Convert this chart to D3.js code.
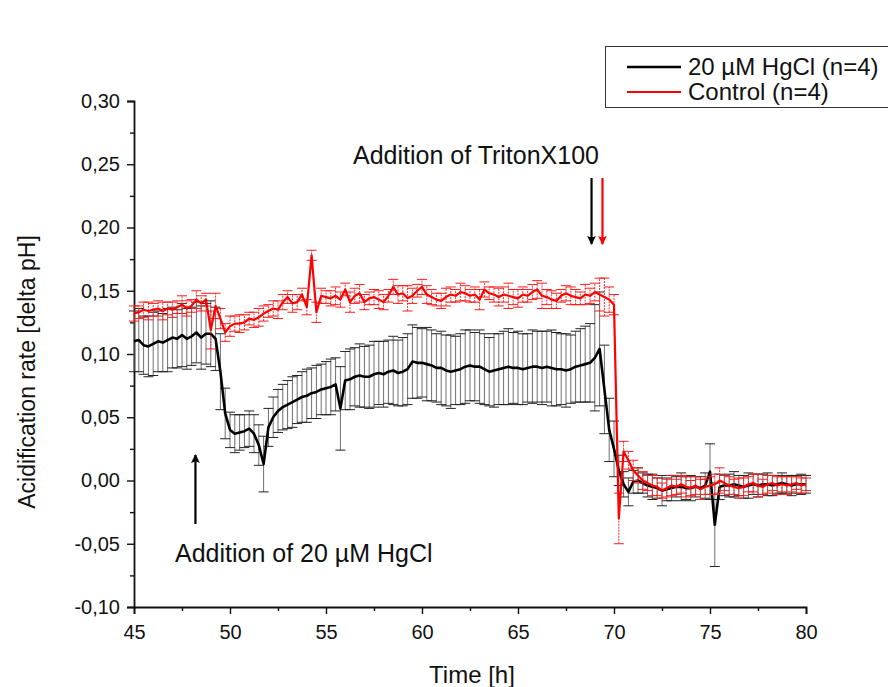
<!DOCTYPE html>
<html>
<head>
<meta charset="utf-8">
<script src="https://cdn.jsdelivr.net/npm/d3@7"></script>
<style>
  body { margin: 0; background: #fff; }
  text { font-family: "Liberation Sans", Arial, sans-serif; fill: #111; }
</style>
</head>
<body>
<div class="canvas"></div>
<script>
// time points [h]
const time = [
  45, 45.25, 45.5, 45.75, 46, 46.25, 46.5, 46.75, 47, 47.25, 47.5, 47.75,
  48, 48.25, 48.5, 48.75, 49, 49.25, 49.5, 49.75, 50, 50.25, 50.5, 50.75,
  51, 51.25, 51.5, 51.75, 52, 52.25, 52.5, 52.75, 53, 53.25, 53.5, 53.75,
  54, 54.25, 54.5, 54.75, 55, 55.25, 55.5, 55.75, 56, 56.25, 56.5, 56.75,
  57, 57.25, 57.5, 57.75, 58, 58.25, 58.5, 58.75, 59, 59.25, 59.5, 59.75,
  60, 60.25, 60.5, 60.75, 61, 61.25, 61.5, 61.75, 62, 62.25, 62.5, 62.75,
  63, 63.25, 63.5, 63.75, 64, 64.25, 64.5, 64.75, 65, 65.25, 65.5, 65.75,
  66, 66.25, 66.5, 66.75, 67, 67.25, 67.5, 67.75, 68, 68.25, 68.5, 68.75,
  69, 69.25, 69.5, 69.75, 70, 70.25, 70.5, 70.75, 71, 71.25, 71.5, 71.75,
  72, 72.25, 72.5, 72.75, 73, 73.25, 73.5, 73.75, 74, 74.25, 74.5, 74.75,
  75, 75.25, 75.5, 75.75, 76, 76.25, 76.5, 76.75, 77, 77.25, 77.5, 77.75,
  78, 78.25, 78.5, 78.75, 79, 79.25, 79.5, 79.75, 80
];

// 20 µM HgCl (n=4)
const hgMean = [
  0.110, 0.111, 0.107, 0.106, 0.108, 0.110, 0.109, 0.111, 0.113, 0.112, 0.115, 0.112,
  0.114, 0.117, 0.113, 0.116, 0.116, 0.112, 0.086, 0.053, 0.040, 0.037, 0.038, 0.039,
  0.041, 0.037, 0.028, 0.013, 0.042, 0.050, 0.055, 0.058, 0.060, 0.062, 0.064, 0.066,
  0.067, 0.069, 0.070, 0.072, 0.073, 0.074, 0.076, 0.057, 0.079, 0.080, 0.082, 0.083,
  0.082, 0.082, 0.084, 0.085, 0.084, 0.086, 0.087, 0.085, 0.086, 0.088, 0.094, 0.093,
  0.093, 0.092, 0.091, 0.089, 0.089, 0.087, 0.086, 0.087, 0.088, 0.090, 0.091, 0.090,
  0.090, 0.088, 0.086, 0.087, 0.088, 0.089, 0.090, 0.089, 0.089, 0.088, 0.089, 0.090,
  0.090, 0.089, 0.090, 0.089, 0.088, 0.088, 0.087, 0.088, 0.090, 0.091, 0.092, 0.093,
  0.097, 0.104, 0.072, 0.040, 0.025, 0.008, -0.003, -0.009, -0.001, 0.000, -0.002, -0.004,
  -0.005, -0.006, -0.008, -0.007, -0.006, -0.005, -0.005, -0.006, -0.006, -0.005, -0.006, -0.004,
  0.007, -0.035, -0.005, -0.004, -0.004, -0.003, -0.004, -0.005, -0.004, -0.003, -0.004, -0.003,
  -0.003, -0.004, -0.003, -0.002, -0.003, -0.004, -0.003, -0.003, -0.003
];
const hgErr = [
  0.024, 0.025, 0.023, 0.024, 0.025, 0.024, 0.023, 0.025, 0.024, 0.023, 0.025, 0.024,
  0.023, 0.024, 0.025, 0.024, 0.026, 0.025, 0.030, 0.020, 0.014, 0.015, 0.014, 0.013,
  0.014, 0.015, 0.016, 0.022, 0.015, 0.016, 0.017, 0.018, 0.019, 0.020, 0.019, 0.020,
  0.021, 0.020, 0.021, 0.020, 0.021, 0.022, 0.021, 0.033, 0.023, 0.024, 0.023, 0.025,
  0.024, 0.025, 0.026, 0.025, 0.026, 0.025, 0.027, 0.026, 0.027, 0.028, 0.029, 0.028,
  0.027, 0.029, 0.028, 0.027, 0.029, 0.028, 0.029, 0.027, 0.028, 0.029, 0.028, 0.027,
  0.029, 0.028, 0.027, 0.029, 0.028, 0.029, 0.030, 0.028, 0.029, 0.028, 0.027, 0.029,
  0.028, 0.029, 0.028, 0.030, 0.029, 0.028, 0.029, 0.027, 0.028, 0.029, 0.030, 0.031,
  0.042, 0.045, 0.035, 0.025, 0.022, 0.012, 0.010, 0.011, 0.009, 0.010, 0.008, 0.009,
  0.010, 0.008, 0.012, 0.009, 0.010, 0.008, 0.011, 0.009, 0.010, 0.008, 0.009, 0.010,
  0.022, 0.033, 0.010, 0.008, 0.009, 0.010, 0.008, 0.009, 0.010, 0.008, 0.009, 0.008,
  0.009, 0.008, 0.007, 0.008, 0.007, 0.008, 0.007, 0.008, 0.007
];

// Control (n=4)
const ctrlMean = [
  0.132, 0.133, 0.135, 0.134, 0.135, 0.136, 0.134, 0.136, 0.135, 0.137, 0.139, 0.136,
  0.138, 0.143, 0.140, 0.143, 0.119, 0.138, 0.128, 0.117, 0.122, 0.124, 0.124, 0.125,
  0.128, 0.127, 0.129, 0.132, 0.134, 0.136, 0.135, 0.141, 0.145, 0.140, 0.141, 0.147,
  0.137, 0.178, 0.133, 0.146, 0.145, 0.144, 0.146, 0.143, 0.151, 0.141, 0.146, 0.148,
  0.141, 0.144, 0.145, 0.143, 0.141, 0.146, 0.153, 0.147, 0.148, 0.144, 0.146, 0.150,
  0.153, 0.147, 0.145, 0.143, 0.142, 0.145, 0.147, 0.146, 0.149, 0.148, 0.146, 0.147,
  0.143, 0.151, 0.148, 0.147, 0.145, 0.147, 0.146, 0.145, 0.144, 0.147, 0.146, 0.149,
  0.151, 0.146, 0.145, 0.143, 0.142, 0.146, 0.148, 0.146, 0.145, 0.144, 0.147, 0.146,
  0.149, 0.147, 0.145, 0.143, 0.139, -0.030, 0.023, 0.016, 0.008, 0.004, 0.000, -0.002,
  -0.004, -0.005, -0.008, -0.006, -0.004, -0.005, -0.003, -0.005, -0.006, -0.004, -0.007, -0.005,
  -0.004, -0.003, 0.000, -0.002, -0.004, -0.005, -0.006, -0.005, -0.003, -0.002, -0.004, -0.005,
  -0.003, -0.002, -0.004, -0.003, -0.004, -0.003, -0.002, -0.004, -0.003
];
const ctrlErr = [
  0.006, 0.005, 0.006, 0.007, 0.005, 0.006, 0.007, 0.005, 0.006, 0.005, 0.007, 0.006,
  0.005, 0.007, 0.006, 0.005, 0.015, 0.010, 0.008, 0.007, 0.008, 0.006, 0.007, 0.006,
  0.005, 0.006, 0.007, 0.006, 0.005, 0.006, 0.007, 0.006, 0.005, 0.007, 0.006, 0.005,
  0.006, 0.004, 0.008, 0.006, 0.005, 0.006, 0.007, 0.006, 0.005, 0.008, 0.006, 0.007,
  0.006, 0.005, 0.006, 0.007, 0.006, 0.005, 0.006, 0.007, 0.006, 0.010, 0.006, 0.005,
  0.006, 0.007, 0.006, 0.005, 0.006, 0.007, 0.006, 0.005, 0.007, 0.006, 0.005, 0.006,
  0.008, 0.006, 0.005, 0.006, 0.007, 0.006, 0.010, 0.006, 0.007, 0.006, 0.005, 0.006,
  0.007, 0.010, 0.006, 0.007, 0.006, 0.005, 0.006, 0.007, 0.006, 0.005, 0.008, 0.006,
  0.007, 0.013, 0.015, 0.010, 0.008, 0.020, 0.008, 0.007, 0.008, 0.006, 0.007, 0.006,
  0.008, 0.007, 0.006, 0.007, 0.008, 0.006, 0.007, 0.008, 0.006, 0.007, 0.008, 0.006,
  0.007, 0.008, 0.010, 0.006, 0.007, 0.006, 0.008, 0.007, 0.006, 0.007, 0.009, 0.006,
  0.007, 0.006, 0.007, 0.006, 0.007, 0.006, 0.005, 0.006, 0.005
];

const xTicks = [45, 50, 55, 60, 65, 70, 75, 80];
const yTicks = [-0.10, -0.05, 0.00, 0.05, 0.10, 0.15, 0.20, 0.25, 0.30];
const legendLabels = ['20 µM HgCl (n=4)', 'Control (n=4)'];
const noteTriton = 'Addition of TritonX100';
const noteHg = 'Addition of 20 µM HgCl';

const dims = {width: 888, height: 687};
const plot = {left: 134, right: 806, top: 101, bottom: 607};

const svg = d3.select('.canvas')
  .append('svg')
  .attr('width', dims.width)
  .attr('height', dims.height)
  .style('display', 'block');

svg.append('rect')
  .attr('width', dims.width)
  .attr('height', dims.height)
  .attr('fill', '#fff');

const x = d3.scaleLinear().domain([45, 80]).range([plot.left, plot.right]);
const y = d3.scaleLinear().domain([-0.10, 0.30]).range([plot.bottom, plot.top]);

const fmt = v => d3.format('.2f')(v).replace('.', ',').replace('−', '-');

// axes
svg.append('g')
  .attr('transform', `translate(0, ${plot.bottom})`)
  .call(d3.axisBottom(x).tickValues(xTicks).tickSize(7).tickPadding(11).tickFormat(d => d));

svg.append('g')
  .attr('transform', `translate(0, ${plot.bottom})`)
  .call(d3.axisBottom(x).tickValues(d3.range(47.5, 80, 5)).tickSize(4).tickFormat(''))
  .call(g => g.select('.domain').remove());

svg.append('g')
  .attr('transform', `translate(${plot.left}, 0)`)
  .call(d3.axisLeft(y).tickValues(yTicks).tickSize(7).tickPadding(7).tickFormat(fmt));

svg.append('g')
  .attr('transform', `translate(${plot.left}, 0)`)
  .call(d3.axisLeft(y).tickValues(yTicks.slice(0, -1).map(v => v + 0.025)).tickSize(4).tickFormat(''))
  .call(g => g.select('.domain').remove());

svg.selectAll('.domain').attr('stroke', '#111').attr('stroke-width', 1.8);
svg.selectAll('.tick line').attr('stroke', '#111').attr('stroke-width', 1.4);
svg.selectAll('.tick text')
  .style('font-family', '"Liberation Sans", Arial, sans-serif')
  .style('font-size', '20px')
  .attr('fill', '#111');

svg.append('text')
  .attr('x', 472)
  .attr('y', 683)
  .attr('text-anchor', 'middle')
  .style('font-size', '24px')
  .text('Time [h]');

svg.append('text')
  .attr('transform', `translate(35, 372) rotate(-90)`)
  .attr('text-anchor', 'middle')
  .style('font-size', '23px')
  .text('Acidification rate [delta pH]');

// error bars
const drawErrors = (mean, err, stem, cap, dash) => {
  const g = svg.append('g');
  const rows = time.map((t, i) => ({t, m: mean[i], e: err[i]}));
  g.selectAll('line.stem')
    .data(rows)
    .enter()
    .append('line')
    .attr('x1', d => x(d.t)).attr('x2', d => x(d.t))
    .attr('y1', d => y(d.m - d.e)).attr('y2', d => y(d.m + d.e))
    .attr('stroke', stem)
    .attr('stroke-width', 1)
    .attr('stroke-dasharray', dash);
  [1, -1].forEach(s => {
    g.selectAll(null)
      .data(rows)
      .enter()
      .append('line')
      .attr('x1', d => x(d.t) - 5).attr('x2', d => x(d.t) + 5)
      .attr('y1', d => y(d.m + s * d.e)).attr('y2', d => y(d.m + s * d.e))
      .attr('stroke', cap)
      .attr('stroke-width', 1);
  });
};

const line = d3.line()
  .x((d, i) => x(time[i]))
  .y(d => y(d));

drawErrors(hgMean, hgErr, '#6e6e6e', '#222', null);

svg.append('path')
  .datum(hgMean)
  .attr('fill', 'none')
  .attr('stroke', '#000')
  .attr('stroke-width', 2.6)
  .attr('stroke-linejoin', 'round')
  .attr('d', line);

drawErrors(ctrlMean, ctrlErr, '#f03030', '#ff1a1a', '2,1');

svg.append('path')
  .datum(ctrlMean)
  .attr('fill', 'none')
  .attr('stroke', '#ff0000')
  .attr('stroke-width', 2.2)
  .attr('stroke-linejoin', 'round')
  .attr('d', line);

// arrows
const defs = svg.append('defs');
[['headK', '#000'], ['headR', '#ff0000']].forEach(([id, c]) => {
  defs.append('marker')
    .attr('id', id)
    .attr('viewBox', '0 0 10 10')
    .attr('refX', 9).attr('refY', 5)
    .attr('markerWidth', 5).attr('markerHeight', 4)
    .attr('markerUnits', 'strokeWidth')
    .attr('orient', 'auto')
    .append('path')
    .attr('d', 'M0,0 L10,5 L0,10 L2,5 Z')
    .attr('fill', c);
});

const arrow = (x0, y0, x1, y1, c, id) => svg.append('line')
  .attr('x1', x0).attr('y1', y0).attr('x2', x1).attr('y2', y1)
  .attr('stroke', c).attr('stroke-width', 2.2)
  .attr('marker-end', `url(#${id})`);

arrow(x(68.83), 178, x(68.83), 244, '#000', 'headK');
arrow(x(69.4), 178, x(69.4), 244, '#ff0000', 'headR');
arrow(x(48.2), 524, x(48.2), 455, '#000', 'headK');

svg.append('text')
  .attr('x', 353).attr('y', 164)
  .style('font-size', '25px')
  .text(noteTriton);

svg.append('text')
  .attr('x', 175).attr('y', 562)
  .style('font-size', '25px')
  .text(noteHg);

// legend
const legend = svg.append('g');
legend.append('rect')
  .attr('x', 605.5).attr('y', 46.5)
  .attr('width', 300).attr('height', 61)
  .attr('fill', '#fff')
  .attr('stroke', '#333')
  .attr('stroke-width', 1);

legendLabels.forEach((label, i) => {
  const ly = 67 + i * 25;
  legend.append('line')
    .attr('x1', 627).attr('x2', 681)
    .attr('y1', ly).attr('y2', ly)
    .attr('stroke', i === 0 ? '#000' : '#ff0000')
    .attr('stroke-width', i === 0 ? 2.6 : 2.2);
  legend.append('text')
    .attr('x', 688).attr('y', ly + 8)
    .style('font-size', '24px')
    .text(label);
});
</script>
</body>
</html>
